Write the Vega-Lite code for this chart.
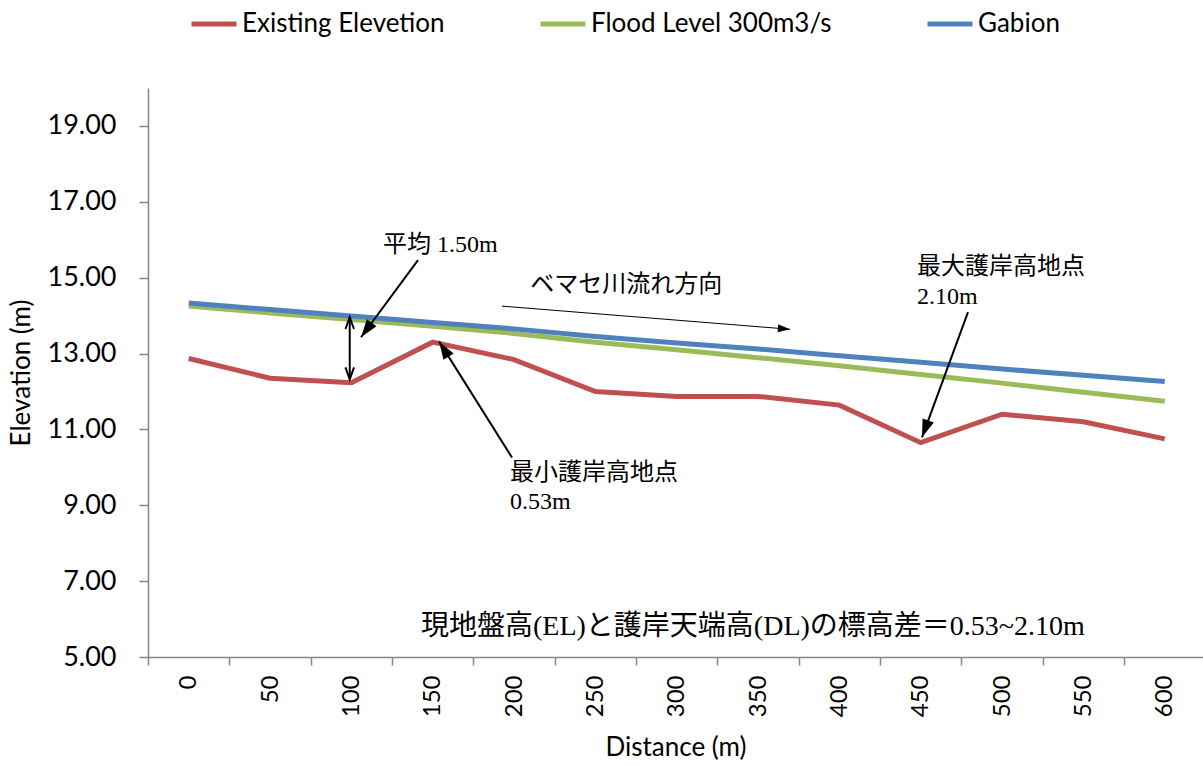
{
  "$schema": "https://vega.github.io/schema/vega-lite/v6.json",
  "width": 1055,
  "height": 569,
  "autosize": {"type": "none"},
  "padding": {"left": 148, "top": 88, "right": 0, "bottom": 110},
  "background": "white",
  "config": {"view": {"stroke": null}, "font": "Lato"},
  "datasets": {
    "series": [
      {"distance": 0, "elevation": 12.87, "series": "Existing Elevetion"},
      {"distance": 50, "elevation": 12.35, "series": "Existing Elevetion"},
      {"distance": 100, "elevation": 12.23, "series": "Existing Elevetion"},
      {"distance": 150, "elevation": 13.30, "series": "Existing Elevetion"},
      {"distance": 200, "elevation": 12.84, "series": "Existing Elevetion"},
      {"distance": 250, "elevation": 12.00, "series": "Existing Elevetion"},
      {"distance": 300, "elevation": 11.87, "series": "Existing Elevetion"},
      {"distance": 350, "elevation": 11.87, "series": "Existing Elevetion"},
      {"distance": 400, "elevation": 11.64, "series": "Existing Elevetion"},
      {"distance": 450, "elevation": 10.65, "series": "Existing Elevetion"},
      {"distance": 500, "elevation": 11.40, "series": "Existing Elevetion"},
      {"distance": 550, "elevation": 11.20, "series": "Existing Elevetion"},
      {"distance": 600, "elevation": 10.75, "series": "Existing Elevetion"},
      {"distance": 0, "elevation": 14.25, "series": "Flood Level 300m3/s"},
      {"distance": 50, "elevation": 14.07, "series": "Flood Level 300m3/s"},
      {"distance": 100, "elevation": 13.90, "series": "Flood Level 300m3/s"},
      {"distance": 150, "elevation": 13.72, "series": "Flood Level 300m3/s"},
      {"distance": 200, "elevation": 13.53, "series": "Flood Level 300m3/s"},
      {"distance": 250, "elevation": 13.30, "series": "Flood Level 300m3/s"},
      {"distance": 300, "elevation": 13.10, "series": "Flood Level 300m3/s"},
      {"distance": 350, "elevation": 12.89, "series": "Flood Level 300m3/s"},
      {"distance": 400, "elevation": 12.68, "series": "Flood Level 300m3/s"},
      {"distance": 450, "elevation": 12.45, "series": "Flood Level 300m3/s"},
      {"distance": 500, "elevation": 12.22, "series": "Flood Level 300m3/s"},
      {"distance": 550, "elevation": 11.98, "series": "Flood Level 300m3/s"},
      {"distance": 600, "elevation": 11.74, "series": "Flood Level 300m3/s"},
      {"distance": 0, "elevation": 14.33, "series": "Gabion"},
      {"distance": 50, "elevation": 14.16, "series": "Gabion"},
      {"distance": 100, "elevation": 13.99, "series": "Gabion"},
      {"distance": 150, "elevation": 13.82, "series": "Gabion"},
      {"distance": 200, "elevation": 13.65, "series": "Gabion"},
      {"distance": 250, "elevation": 13.45, "series": "Gabion"},
      {"distance": 300, "elevation": 13.28, "series": "Gabion"},
      {"distance": 350, "elevation": 13.12, "series": "Gabion"},
      {"distance": 400, "elevation": 12.94, "series": "Gabion"},
      {"distance": 450, "elevation": 12.77, "series": "Gabion"},
      {"distance": 500, "elevation": 12.59, "series": "Gabion"},
      {"distance": 550, "elevation": 12.43, "series": "Gabion"},
      {"distance": 600, "elevation": 12.26, "series": "Gabion"}
    ],
    "arrows": [
      {"distance": 140.97, "elevation": 15.46, "distance2": 105.93, "elevation2": 13.43},
      {"distance": 198.75, "elevation": 10.26, "distance2": 153.88, "elevation2": 13.32},
      {"distance": 479.05, "elevation": 14.09, "distance2": 450.78, "elevation2": 10.79},
      {"distance": 99, "elevation": 12.32, "distance2": 99, "elevation2": 13.96}
    ],
    "flow": [
      {"distance": 192.6, "elevation": 14.25, "distance2": 369.6, "elevation2": 13.64}
    ],
    "notes": [
      {"distance": 119.5, "elevation": 15.86, "label": "平均 1.50m"},
      {"distance": 210, "elevation": 14.80, "label": "ベマセ川流れ方向"},
      {"distance": 197.5, "elevation": 9.84, "label": "最小護岸高地点"},
      {"distance": 197.5, "elevation": 9.08, "label": "0.53m"},
      {"distance": 447.7, "elevation": 15.28, "label": "最大護岸高地点"},
      {"distance": 447.7, "elevation": 14.49, "label": "2.10m"}
    ],
    "footer": [
      {"distance": 142.8, "elevation": 5.80, "label": "現地盤高(EL)と護岸天端高(DL)の標高差＝0.53~2.10m"}
    ]
  },
  "encoding": {
    "x": {
      "field": "distance", "type": "quantitative",
      "scale": {"domain": [-25, 623.5], "nice": false, "zero": false},
      "axis": {
        "values": [-25, 25, 75, 125, 175, 225, 275, 325, 375, 425, 475, 525, 575],
        "labelExpr": "'' + (datum.value + 25)",
        "labelOffset": 40.67,
        "labelAngle": -90,
        "labelFlush": false,
        "labelBound": false,
        "labelOverlap": false,
        "labelFontSize": 24,
        "labelFont": "Lato",
        "labelColor": "black",
        "labelPadding": 10,
        "tickSize": 8,
        "tickWidth": 1.5,
        "tickColor": "#868686",
        "domainColor": "#868686",
        "domainWidth": 1.5,
        "grid": false,
        "title": "Distance (m)",
        "titleFont": "Lato",
        "titleFontSize": 26,
        "titleFontWeight": "normal",
        "titleColor": "black",
        "titlePadding": 18
      }
    },
    "y": {
      "field": "elevation", "type": "quantitative",
      "scale": {"domain": [5, 20], "nice": false, "zero": false},
      "axis": {
        "values": [5, 7, 9, 11, 13, 15, 17, 19],
        "format": ".2f",
        "labelFontSize": 27,
        "labelFont": "Lato",
        "labelColor": "black",
        "labelPadding": 23,
        "tickSize": 9,
        "tickWidth": 1.5,
        "tickColor": "#868686",
        "domainColor": "#868686",
        "domainWidth": 1.5,
        "grid": false,
        "title": "Elevation (m)",
        "titleFont": "Lato",
        "titleFontSize": 26,
        "titleFontWeight": "normal",
        "titleColor": "black",
        "titlePadding": 12
      }
    }
  },
  "layer": [
    {
      "data": {"name": "series"},
      "mark": {"type": "line", "strokeWidth": 5},
      "encoding": {
        "color": {
          "field": "series", "type": "nominal",
          "scale": {
            "domain": ["Existing Elevetion", "Flood Level 300m3/s", "Gabion"],
            "range": ["#C0504D", "#9BBB59", "#4F81BD"]
          },
          "legend": {
            "orient": "none",
            "legendX": 41,
            "legendY": -89,
            "direction": "horizontal",
            "title": null,
            "symbolType": "stroke",
            "symbolSize": 2025,
            "symbolStrokeWidth": 5,
            "labelFont": "Lato",
            "labelFontSize": 26,
            "labelColor": "black",
            "labelLimit": 0,
            "labelOffset": 3,
            "columnPadding": 85,
            "padding": 0
          }
        }
      }
    },
    {
      "data": {"name": "arrows"},
      "mark": {"type": "rule", "color": "black", "strokeWidth": 2},
      "encoding": {
        "x2": {"field": "distance2"},
        "y2": {"field": "elevation2"}
      }
    },
    {
      "data": {"name": "flow"},
      "mark": {"type": "rule", "color": "black", "strokeWidth": 1},
      "encoding": {
        "x2": {"field": "distance2"},
        "y2": {"field": "elevation2"}
      }
    },
    {
      "data": {"values": [{"distance": 105.93, "elevation": 13.43}]},
      "mark": {"type": "point", "shape": "M0,0 L0.6,1.8 L-0.6,1.8 Z", "size": 400, "angle": 216.5, "filled": true, "color": "black", "opacity": 1, "strokeWidth": 0}
    },
    {
      "data": {"values": [{"distance": 153.88, "elevation": 13.32}]},
      "mark": {"type": "point", "shape": "M0,0 L0.6,1.8 L-0.6,1.8 Z", "size": 400, "angle": 327.8, "filled": true, "color": "black", "opacity": 1, "strokeWidth": 0}
    },
    {
      "data": {"values": [{"distance": 450.78, "elevation": 10.79}]},
      "mark": {"type": "point", "shape": "M0,0 L0.6,1.8 L-0.6,1.8 Z", "size": 400, "angle": 200.2, "filled": true, "color": "black", "opacity": 1, "strokeWidth": 0}
    },
    {
      "data": {"values": [{"distance": 369.6, "elevation": 13.64}]},
      "mark": {"type": "point", "shape": "M0,0 L0.6,1.8 L-0.6,1.8 Z", "size": 180, "angle": 94.6, "filled": true, "color": "black", "opacity": 1, "strokeWidth": 0}
    },
    {
      "data": {"values": [{"distance": 99, "elevation": 13.96}]},
      "mark": {"type": "point", "shape": "M-0.5,1.4 L0,0 L0.5,1.4", "size": 290, "angle": 0, "filled": false, "color": "black", "opacity": 1, "strokeWidth": 2}
    },
    {
      "data": {"values": [{"distance": 99, "elevation": 12.32}]},
      "mark": {"type": "point", "shape": "M-0.5,1.4 L0,0 L0.5,1.4", "size": 290, "angle": 180, "filled": false, "color": "black", "opacity": 1, "strokeWidth": 2}
    },
    {
      "data": {"name": "notes"},
      "mark": {"type": "text", "align": "left", "baseline": "middle", "font": "Liberation Serif, Noto Sans CJK JP", "fontSize": 24, "color": "black"},
      "encoding": {
        "text": {"field": "label"}
      }
    },
    {
      "data": {"name": "footer"},
      "mark": {"type": "text", "align": "left", "baseline": "middle", "font": "Liberation Serif, Noto Sans CJK JP", "fontSize": 28, "color": "black"},
      "encoding": {
        "text": {"field": "label"}
      }
    }
  ]
}
